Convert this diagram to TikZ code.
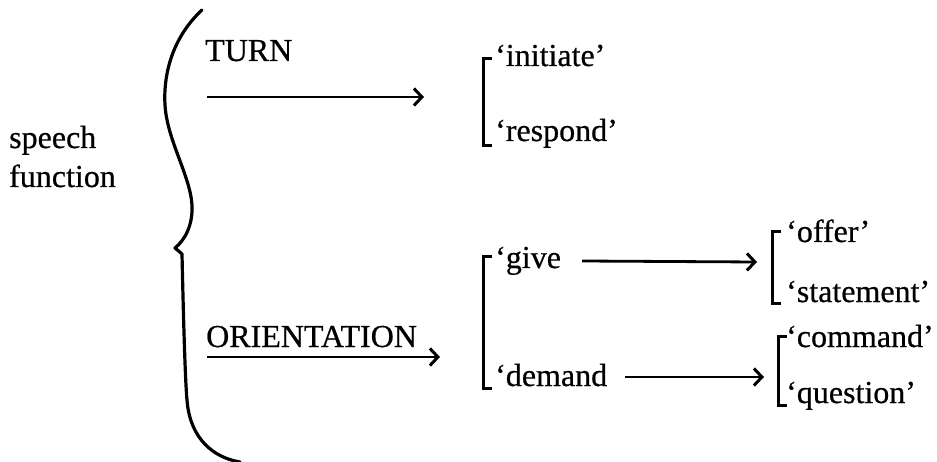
\documentclass[tikz,border=0pt]{standalone}
\usepackage{fontspec}
\setmainfont{Liberation Serif}
\newfontfamily\scanfont{Liberation Serif}[FakeBold=0.6]
\usetikzlibrary{arrows.meta}
\begin{document}
\begin{tikzpicture}[x=1pt,y=-1pt,
  lbl/.style={anchor=base west,inner sep=0pt,font=\scanfont\fontsize{32}{36}\selectfont},
  arr/.style={line width=2.8pt,-{Straight Barb[length=8pt,width=17pt,line width=3pt]}},
  brk/.style={line width=3pt,line cap=butt},
  brc/.style={line width=3.2pt,line cap=round,line join=round}]
\useasboundingbox (0,0) rectangle (937,462);
% brace
\draw[brc] (202,10) .. controls (175,35) and (163,70) .. (165,105)
  .. controls (167,140) and (190,175) .. (192,205)
  .. controls (193,225) and (185,240) .. (175,248) -- (182,254)
  .. controls (183,300) and (185,380) .. (187,400)
  .. controls (190,440) and (215,458) .. (240,462);
% left label
\node[lbl] (sp) at (9,148) {speech};
\node[lbl] (fn) at (9,187) {function};
% TURN
\node[lbl] (turn) at (205,61) {TURN};
\coordinate (tA) at (207,97);
\coordinate (tB) at (424,97);
\draw[arr] (tA) -- (tB);
\node[lbl] (ini) at (495,66) {‘initiate’};
\node[lbl] (res) at (495,141) {‘respond’};
\draw[brk] (492,59) -- (483,59) -- (483,146) -- (492,146);
% ORIENTATION
\node[lbl] (ori) at (206,347) {ORIENTATION};
\coordinate (oA) at (207,357);
\coordinate (oB) at (440,357);
\draw[arr] (oA) -- (oB);
\node[lbl] (give) at (495,268) {‘give};
\node[lbl] (dem) at (495,386) {‘demand};
\draw[brk] (492,257) -- (483,257) -- (483,388) -- (492,388);
% give -> offer/statement
\coordinate (gA) at (582,261);
\coordinate (gB) at (757,262);
\draw[arr] (gA) -- (gB);
\node[lbl] (off) at (786,242) {‘offer’};
\node[lbl] (sta) at (786,302) {‘statement’};
\draw[brk] (781,232) -- (772,232) -- (772,304) -- (781,304);
% demand -> command/question
\coordinate (dA) at (625,377);
\coordinate (dB) at (764,377);
\draw[arr] (dA) -- (dB);
\node[lbl] (com) at (786,347) {‘command’};
\node[lbl] (que) at (786,403) {‘question’};
\draw[brk] (787,336) -- (778,336) -- (778,405) -- (787,405);
\end{tikzpicture}
\end{document}
